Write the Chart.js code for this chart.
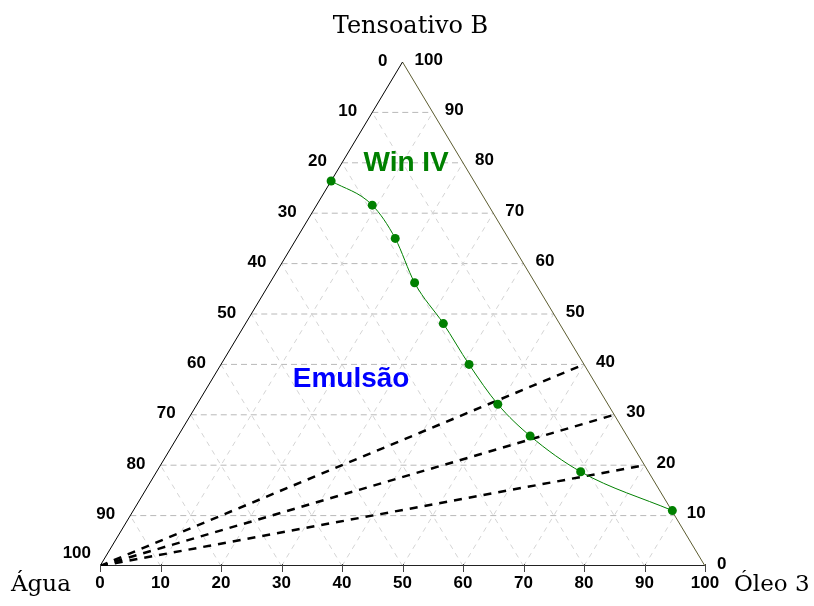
<!DOCTYPE html>
<html lang="pt">
<head>
<meta charset="utf-8">
<title>Diagrama ternário</title>
<script src="https://cdn.jsdelivr.net/npm/chart.js@4.4.1/dist/chart.umd.min.js"></script>
<style>
  html, body { margin: 0; padding: 0; background: #ffffff; }
  #wrap { width: 814px; height: 606px; }
</style>
</head>
<body>
<div id="wrap"><canvas id="ternario" width="814" height="606"></canvas></div>
<script>
// Composição (% em massa) dos pontos da fronteira Win IV
const oleoPct       = [0, 9.2, 16.3, 23.9, 32.7, 41.0, 49.7, 58.2, 70.1, 89.1];
const tensoativoPct = [76.4, 71.6, 65.0, 56.2, 48.1, 40.0, 32.1, 25.8, 18.7, 11.0];

// Linhas de diluição: partem do vértice da água até a razão óleo/tensoativo indicada
const diluicaoOleo       = [60, 70, 80];
const diluicaoTensoativo = [40, 30, 20];

// Rótulos dos três eixos
const escalaInferior = [0, 10, 20, 30, 40, 50, 60, 70, 80, 90, 100];   // óleo
const escalaEsquerda = [0, 10, 20, 30, 40, 50, 60, 70, 80, 90, 100];   // água
const escalaDireita  = [0, 10, 20, 30, 40, 50, 60, 70, 80, 90, 100];   // tensoativo
const divisoesGrade  = [10, 20, 30, 40, 50, 60, 70, 80, 90];

const titulos = { topo: 'Tensoativo B', esquerda: 'Água', direita: 'Óleo 3' };
const regioes = [
  { texto: 'Win IV',  oleo: 10.6, tensoativo: 80.0, cor: '#008000' },
  { texto: 'Emulsão', oleo: 23.0, tensoativo: 37.0, cor: '#0000ff' }
];

// ternário (óleo, tensoativo) -> plano cartesiano do gráfico
function tern(oleo, tens) { return { x: oleo + tens / 2, y: tens }; }

const datasets = [];

// curva da fronteira
datasets.push({
  label: 'Win IV',
  data: oleoPct.map((o, i) => tern(o, tensoativoPct[i])),
  showLine: true,
  borderColor: '#008000',
  backgroundColor: '#008000',
  borderWidth: 1,
  pointRadius: 4.5,
  pointBorderWidth: 0,
  cubicInterpolationMode: 'monotone',
  order: 0
});

// linhas de diluição tracejadas
diluicaoOleo.forEach((o, i) => {
  datasets.push({
    data: [tern(0, 0), tern(o, diluicaoTensoativo[i])],
    showLine: true,
    borderColor: '#000000',
    borderWidth: 2.5,
    borderDash: [8, 7],
    pointRadius: 0,
    order: 1
  });
});

// lados do triângulo
datasets.push({ data: [tern(0, 0), tern(0, 100)], showLine: true, borderColor: '#000000', borderWidth: 1, pointRadius: 0, order: 2 });
datasets.push({ data: [tern(0, 100), tern(100, 0)], showLine: true, borderColor: '#5c5c30', borderWidth: 1, pointRadius: 0, order: 2 });
datasets.push({ data: [tern(0, 0), tern(100, 0)], showLine: true, borderColor: '#222222', borderWidth: 2, pointRadius: 0, order: 2 });

// grade: tensoativo constante (horizontais) e óleo / água constantes (oblíquas)
divisoesGrade.forEach(k => {
  datasets.push({
    data: [tern(0, k), tern(100 - k, k)],
    showLine: true, borderColor: '#b8b8b8', borderWidth: 1, borderDash: [6, 4],
    pointRadius: 0, order: 3
  });
  datasets.push({
    data: [tern(k, 0), tern(k, 100 - k)],
    showLine: true, borderColor: '#d4d4d4', borderWidth: 1, borderDash: [5, 5],
    pointRadius: 0, order: 3
  });
  datasets.push({
    data: [tern(100 - k, 0), tern(0, 100 - k)],
    showLine: true, borderColor: '#d4d4d4', borderWidth: 1, borderDash: [5, 5],
    pointRadius: 0, order: 3
  });
});

// rótulos, títulos e tiques desenhados a partir das escalas do gráfico
const rotulosTernarios = {
  id: 'rotulosTernarios',
  afterDatasetsDraw(chart) {
    const ctx = chart.ctx;
    const sx = chart.scales.x, sy = chart.scales.y;
    const px = (o, t) => sx.getPixelForValue(tern(o, t).x);
    const py = (o, t) => sy.getPixelForValue(tern(o, t).y);
    ctx.save();

    // tiques do eixo inferior
    ctx.strokeStyle = '#444444';
    ctx.lineWidth = 1;
    escalaInferior.forEach(v => {
      const x = Math.round(px(v, 0)) + 0.5, y = py(v, 0);
      ctx.beginPath(); ctx.moveTo(x, y - 2); ctx.lineTo(x, y + 6); ctx.stroke();
    });

    ctx.fillStyle = '#000000';
    ctx.font = 'bold 17px "Liberation Sans", Arial, sans-serif';

    // óleo (inferior)
    ctx.textAlign = 'center'; ctx.textBaseline = 'middle';
    escalaInferior.forEach(v => ctx.fillText(String(v), px(v, 0), py(v, 0) + 17));

    // água (esquerda)
    ctx.textAlign = 'right';
    escalaEsquerda.forEach(w => {
      const t = 100 - w;
      const dx = w === 100 ? -9 : -15;
      const dy = w === 100 ? -13 : -1;
      ctx.fillText(String(w), px(0, t) + dx, py(0, t) + dy);
    });

    // tensoativo (direita)
    ctx.textAlign = 'left';
    escalaDireita.forEach(t => {
      ctx.fillText(String(t), px(100 - t, t) + 12, py(100 - t, t) - 2);
    });

    // títulos dos vértices
    ctx.textBaseline = 'alphabetic';
    ctx.textAlign = 'center';
    ctx.font = '24px "DejaVu Serif", serif';
    ctx.fillText(titulos.topo, px(0, 100) + 8, 33);
    ctx.font = '23px "DejaVu Serif", serif';
    ctx.textAlign = 'left';
    ctx.fillText(titulos.esquerda, 11, py(0, 0) + 25);
    ctx.fillText(titulos.direita, 734, py(100, 0) + 25);

    // regiões
    ctx.font = 'bold 28px "Liberation Sans", Arial, sans-serif';
    ctx.textAlign = 'center'; ctx.textBaseline = 'middle';
    regioes.forEach(r => {
      ctx.fillStyle = r.cor;
      ctx.fillText(r.texto, px(r.oleo, r.tensoativo), py(r.oleo, r.tensoativo));
    });
    ctx.restore();
  }
};

new Chart(document.getElementById('ternario'), {
  type: 'scatter',
  data: { datasets },
  options: {
    responsive: false,
    animation: false,
    devicePixelRatio: 1,
    layout: { padding: { left: 100, right: 109, top: 62, bottom: 40 } },
    scales: {
      x: { type: 'linear', min: 0, max: 100, display: false },
      y: { type: 'linear', min: 0, max: 100, display: false }
    },
    plugins: { legend: { display: false }, tooltip: { enabled: false } },
    elements: { line: { fill: false } }
  },
  plugins: [rotulosTernarios]
});
</script>
</body>
</html>
